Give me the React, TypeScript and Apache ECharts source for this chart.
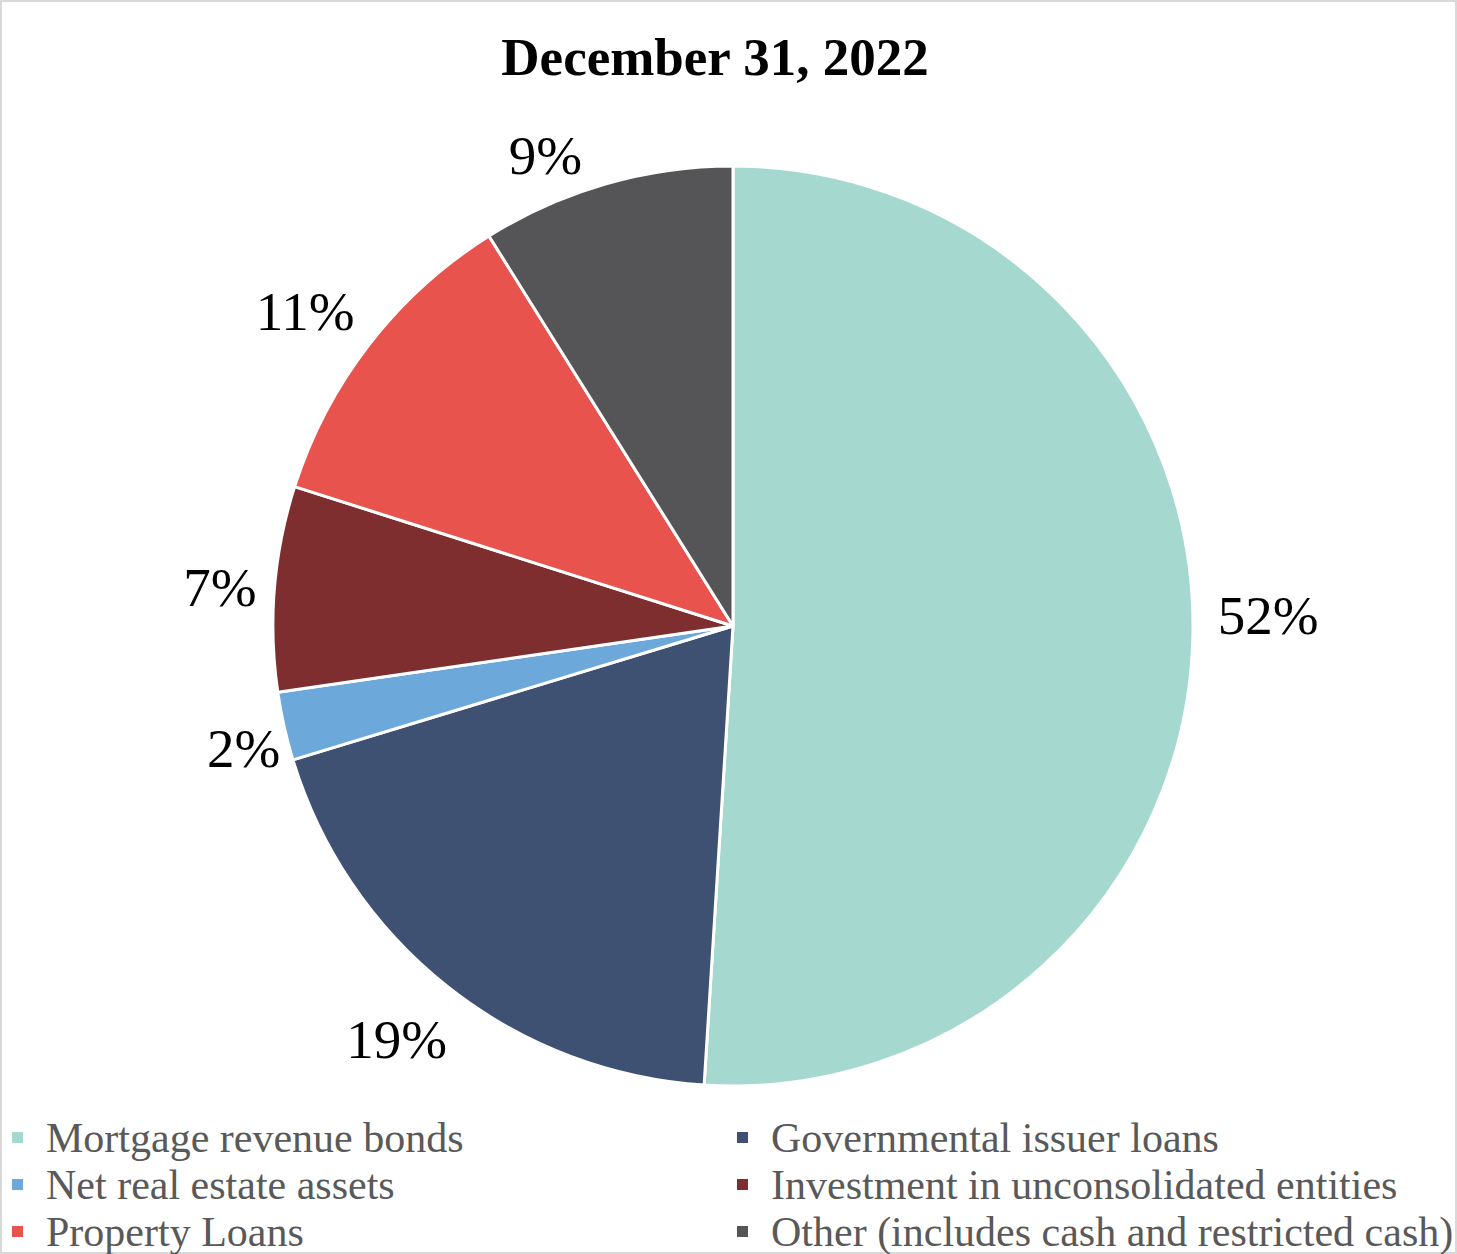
import React, { useEffect, useRef } from "react";
import * as echarts from "echarts";

const categories = [
  "Mortgage revenue bonds",
  "Governmental issuer loans",
  "Net real estate assets",
  "Investment in unconsolidated entities",
  "Property Loans",
  "Other (includes cash and restricted cash)",
];
const values = [51.0, 19.3, 2.4, 7.2, 11.2, 8.9];
const percentLabels = ["52%", "19%", "2%", "7%", "11%", "9%"];
const colors = ["#A5D9CF", "#3F5173", "#6CA9DA", "#7F2E2F", "#E8534E", "#555557"];
const titleText = "December 31, 2022";

// label nudges (style only)
const labelShift: [number, number][] = [
  [0, -25],
  [19, 42],
  [21, 19],
  [7, 0],
  [7, -24],
  [-9, -15],
];

const FONT = "'Liberation Serif', 'Times New Roman', serif";

export default function App() {
  const ref = useRef<HTMLDivElement>(null);
  useEffect(() => {
    document.body.style.margin = "0";
    if (!ref.current) return;
    const chart = echarts.init(ref.current, undefined, { renderer: "svg" });
    const data = categories.map((name, i) => ({
      name,
      value: values[i],
      itemStyle: { color: colors[i] },
      label: { formatter: percentLabels[i] },
    }));
    const legendCommon = {
      orient: "vertical" as const,
      icon: "rect",
      itemWidth: 13,
      itemHeight: 13,
      itemGap: 0,
      top: 1114,
      height: 141,
      padding: 0,
      textStyle: {
        fontFamily: FONT,
        fontSize: 42,
        color: "#595959",
        lineHeight: 47,
        padding: [0, 0, 0, 17],
      },
      selectedMode: false,
    };
    chart.setOption({
      animation: false,
      backgroundColor: "#ffffff",
      color: colors,
      graphic: [
        {
          type: "rect",
          shape: { x: 1, y: 1, width: 1455, height: 1252 },
          style: { fill: "none", stroke: "#d9d9d9", lineWidth: 2 },
          silent: true,
        },
        {
          type: "text",
          x: 715,
          y: 57,
          style: {
            text: titleText,
            fontFamily: FONT,
            fontSize: 53,
            fontWeight: "bold",
            fill: "#000000",
            align: "center",
            verticalAlign: "middle",
          },
        },
      ],
      legend: [
        { ...legendCommon, left: 10, data: [categories[0], categories[2], categories[4]] },
        { ...legendCommon, left: 735, data: [categories[1], categories[3], categories[5]] },
      ],
      series: [
        {
          type: "pie",
          center: [733, 626],
          radius: 460,
          startAngle: 90,
          clockwise: true,
          data,
          itemStyle: { borderColor: "#ffffff", borderWidth: 3 },
          label: {
            show: true,
            position: "outside",
            fontFamily: FONT,
            fontSize: 55,
            color: "#000000",
          },
          labelLine: { show: false, length: 14, length2: 6 },
          labelLayout: (params: any) => {
            const s = labelShift[params.dataIndex] || [0, 0];
            return { dx: s[0], dy: s[1] };
          },
          emphasis: { disabled: true },
        },
      ],
    });
    return () => chart.dispose();
  }, []);
  return <div ref={ref} style={{ width: 1457, height: 1254 }} />;
}
